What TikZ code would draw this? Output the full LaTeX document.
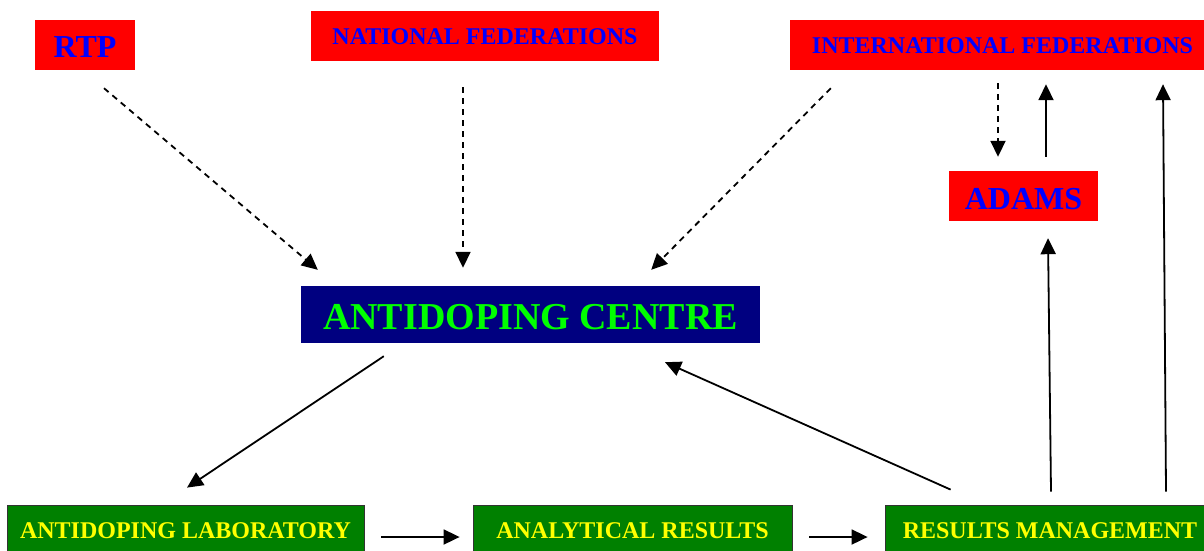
\documentclass[tikz,border=0pt]{standalone}
\usepackage{fontspec}
\setmainfont{Liberation Serif}
\usetikzlibrary{arrows.meta,calc}
\definecolor{redbox}{RGB}{255,0,0}
\definecolor{bluetxt}{RGB}{0,0,255}
\definecolor{navybox}{RGB}{0,0,128}
\definecolor{limetxt}{RGB}{0,255,0}
\definecolor{greenbox}{RGB}{0,128,0}
\definecolor{yellowtxt}{RGB}{255,255,0}
\newcommand{\lowerby}[2]{\raisebox{-#1}[\height][\depth]{#2}}
\begin{document}
\begin{tikzpicture}[x=1pt,y=-1pt,
  redn/.style={fill=redbox,text=bluetxt,inner sep=0pt,font=\bfseries},
  centren/.style={fill=navybox,text=limetxt,inner sep=0pt,font=\bfseries\fontsize{38}{40}\selectfont},
  greenn/.style={fill=greenbox,draw=black!80,line width=0.8pt,text=yellowtxt,inner sep=0pt,font=\bfseries\fontsize{24}{26}\selectfont},
  dasharrow/.style={draw=black,line width=1.8pt,dash pattern=on 6pt off 5pt,-{Triangle[length=16pt,width=15pt]}},
  solarrow/.style={draw=black,line width=1.8pt,-{Triangle[length=16pt,width=15pt]}}
]
\useasboundingbox (0,0) rectangle (1204,550);
\clip (0,0) rectangle (1204,550);
\fill[white] (0,0) rectangle (1204,550);

\node[redn,minimum width=100pt,minimum height=50pt,font=\bfseries\fontsize{32}{34}\selectfont] (rtp) at (85,45) {\lowerby{2pt}{RTP}};
\node[redn,minimum width=348pt,minimum height=50pt,font=\bfseries\fontsize{24}{26}\selectfont] (nf) at (485,36) {\lowerby{1pt}{NATIONAL FEDERATIONS}};
\node[redn,minimum width=414pt,minimum height=50pt,font=\bfseries\fontsize{24}{26}\selectfont] (if) at (997,45) {\hspace{11pt}\lowerby{1pt}{INTERNATIONAL FEDERATIONS}};
\node[redn,minimum width=149pt,minimum height=50pt,font=\bfseries\fontsize{32}{34}\selectfont] (adams) at (1023.5,196) {\lowerby{3pt}{ADAMS}};
\node[centren,minimum width=459pt,minimum height=57pt] (centre) at (530.5,314.5) {\lowerby{3pt}{ANTIDOPING CENTRE}};
\node[greenn,minimum width=357pt,minimum height=50pt] (lab) at (185.5,530) {\lowerby{1pt}{ANTIDOPING LABORATORY}};
\node[greenn,minimum width=319pt,minimum height=50pt] (ar) at (632.5,530) {\lowerby{1pt}{ANALYTICAL RESULTS}};
\node[greenn,minimum width=330pt,minimum height=50pt] (rm) at (1050,530) {\lowerby{1pt}{RESULTS MANAGEMENT}};

\draw[dasharrow] ($(rtp.south)+(19,18)$) -- ($(centre.north west)+(17,-16)$);
\draw[dasharrow] ($(nf.south)+(-22,26)$) -- ($(centre.north)+(-67.5,-18)$);
\draw[dasharrow] ($(if.south west)+(41,18)$) -- ($(centre.north east)+(-109,-16)$);
\draw[dasharrow] ($(if.south)+(1,13)$) -- ($(adams.north)+(-25.5,-14)$);
\draw[solarrow] ($(adams.north)+(22.5,-14)$) -- ($(if.south)+(49,14)$);
\draw[solarrow] ($(rm.north)+(116,-13)$) -- ($(if.south)+(166,14)$);
\draw[solarrow] ($(rm.north)+(1,-13)$) -- ($(adams.south)+(24.5,17)$);
\draw[solarrow] ($(rm.north west)+(66,-15)$) -- ($(centre.south)+(134.5,19)$);
\draw[solarrow] ($(centre.south west)+(83,13)$) -- ($(lab.north)+(1.5,-17)$);
\draw[solarrow] ($(lab.east)+(17,7)$) -- ($(ar.west)+(-13,7)$);
\draw[solarrow] ($(ar.east)+(17,7)$) -- ($(rm.west)+(-17,7)$);
\end{tikzpicture}
\end{document}
